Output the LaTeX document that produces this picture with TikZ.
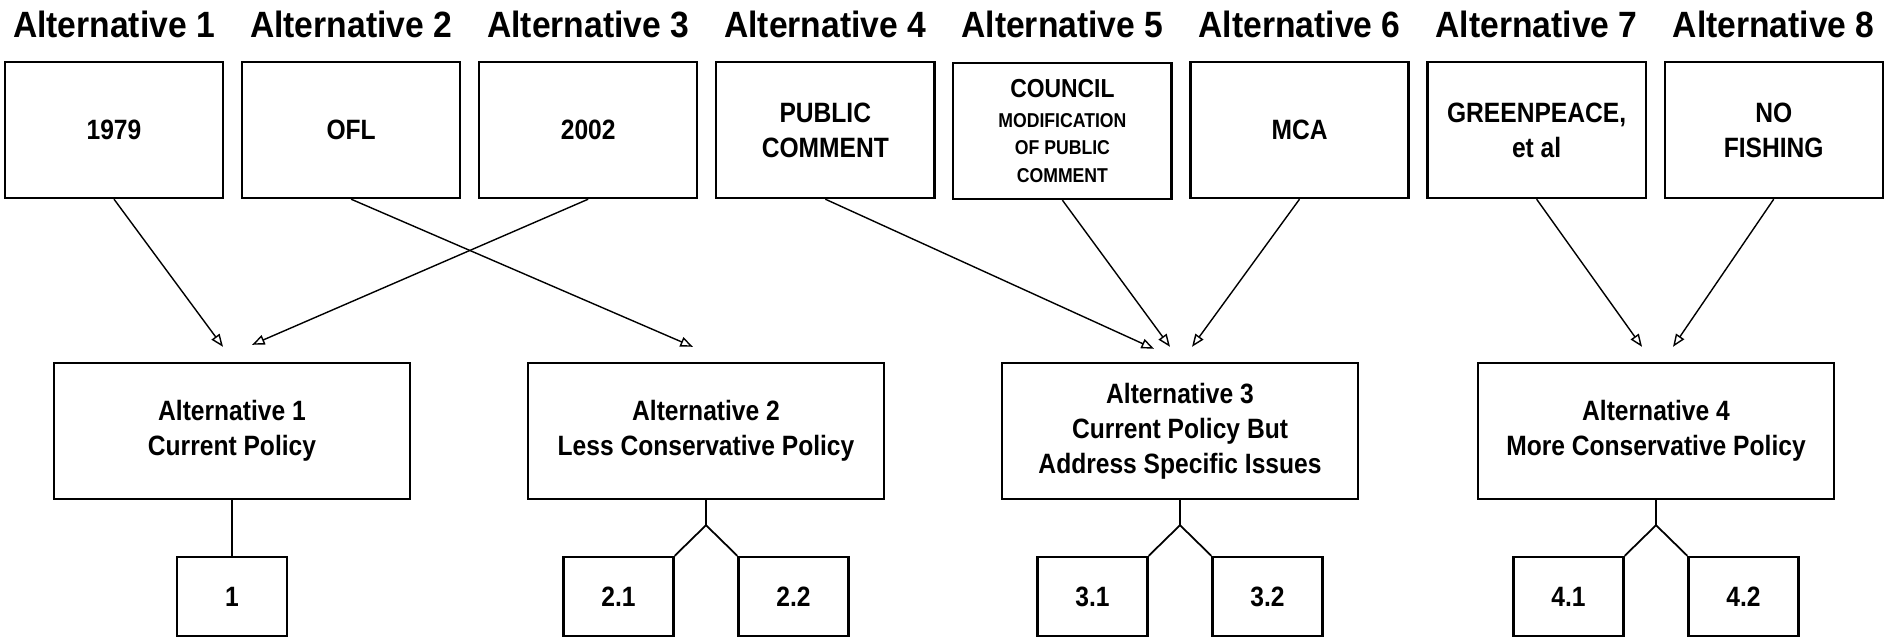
\documentclass[tikz,border=0pt]{standalone}
\usepackage{fontspec}
\setmainfont{Liberation Sans}
\newfontfamily\narrowfont[FakeStretch=0.88]{Liberation Sans}
\newfontfamily\headfont[FakeStretch=0.92]{Liberation Sans}
\usetikzlibrary{calc}
\usetikzlibrary{arrows.meta}

\begin{document}
\begin{tikzpicture}[x=0.01cm, y=-0.01cm,
  title/.style={anchor=base, inner sep=0pt, font=\headfont\fontsize{10.4}{12}\selectfont\bfseries},
  source/.style={draw, line width=0.65pt, minimum width=2.18cm, minimum height=1.36cm,
    inner sep=0pt, align=center, font=\narrowfont\fontsize{7.95}{10}\selectfont\bfseries},
  policy/.style={source, minimum width=3.56cm},
  sub/.style={source, minimum width=1.1cm, minimum height=0.79cm},
  feed/.style={line width=0.4pt, -{Triangle[open, length=3.6pt, width=2.8pt]}},
  link/.style={line width=0.5pt}]

\useasboundingbox (0,0) rectangle (1901,640);

\foreach \i in {1,...,8}
  \node[title] (h\i) at ({114+237.1*(\i-1)},38) {Alternative \i};

\node[source] (s1) at (114,130) {1979};
\node[source] (s2) at (351.1,130) {OFL};
\node[source] (s3) at (588.2,130) {2002};
\node[source] (s4) at (825.3,130) {PUBLIC\\COMMENT};
\node[source, font=\narrowfont\fontsize{5.7}{7.8}\selectfont\bfseries] (s5) at (1062.4,131)
  {{\fontsize{7.4}{7.8}\selectfont COUNCIL}\\[0.7pt] MODIFICATION\\OF PUBLIC\\COMMENT};
\node[source] (s6) at (1299.5,130) {MCA};
\node[source] (s7) at (1536.6,130) {GREENPEACE,\\et al};
\node[source] (s8) at (1773.7,130) {NO\\FISHING};

\node[policy] (p1) at (232,431) {Alternative 1\\Current Policy};
\node[policy] (p2) at (706,431) {Alternative 2\\Less Conservative Policy};
\node[policy] (p3) at (1180,431) {Alternative 3\\Current Policy But\\Address Specific Issues};
\node[policy] (p4) at (1656,431) {Alternative 4\\More Conservative Policy};

\node[sub] (q1) at (232,596.5) {1};
\node[sub] (q21) at (618.5,596.5) {2.1};
\node[sub] (q22) at (793.5,596.5) {2.2};
\node[sub] (q31) at (1092.5,596.5) {3.1};
\node[sub] (q32) at (1267.5,596.5) {3.2};
\node[sub] (q41) at (1568.5,596.5) {4.1};
\node[sub] (q42) at (1743.5,596.5) {4.2};

% arrow tips above the policy boxes
\coordinate (e1) at ($(p1.north)+(-9,-15)$);
\coordinate (e3) at ($(p1.north)+(20,-17)$);
\coordinate (e2) at ($(p2.north)+(-13,-15)$);
\coordinate (e4) at ($(p3.north)+(-26,-13)$);
\coordinate (e5) at ($(p3.north)+(-10,-15)$);
\coordinate (e6) at ($(p3.north)+(12,-15)$);
\coordinate (e7) at ($(p4.north)+(-14,-15)$);
\coordinate (e8) at ($(p4.north)+(17,-15)$);

\draw[feed] (s1.south) -- (e1);
\draw[feed] (s2.south) -- (e2);
\draw[feed] (s3.south) -- (e3);
\draw[feed] (s4.south) -- (e4);
\draw[feed] (s5.south) -- (e5);
\draw[feed] (s6.south) -- (e6);
\draw[feed] (s7.south) -- (e7);
\draw[feed] (s8.south) -- (e8);

% forks down to the sub-options
\coordinate (f2) at ($(p2.south)+(0,25)$);
\coordinate (f3) at ($(p3.south)+(0,25)$);
\coordinate (f4) at ($(p4.south)+(0,25)$);

\draw[link] (p1.south) -- (q1.north);
\draw[link] (p2.south) -- (f2) -- (q21.north east);
\draw[link] (f2) -- (q22.north west);
\draw[link] (p3.south) -- (f3) -- (q31.north east);
\draw[link] (f3) -- (q32.north west);
\draw[link] (p4.south) -- (f4) -- (q41.north east);
\draw[link] (f4) -- (q42.north west);

\end{tikzpicture}
\end{document}
